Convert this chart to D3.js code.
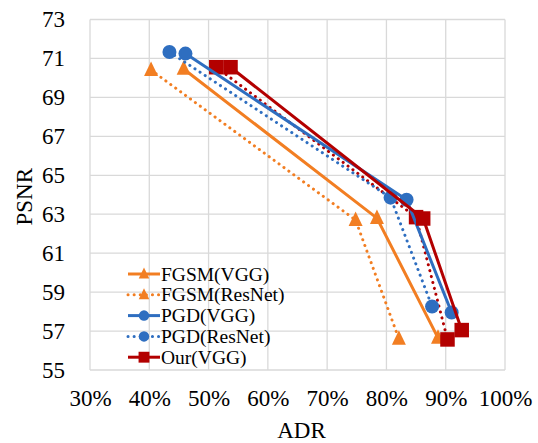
<!DOCTYPE html>
<html><head><meta charset="utf-8">
<script src="https://cdn.jsdelivr.net/npm/d3@7"></script>
<style>body{margin:0;background:#fff}svg{display:block}</style>
</head><body><div id="c"></div>
<script>
const xTicks = [0.3,0.4,0.5,0.6,0.7,0.8,0.9,1.0];
const yTicks = [55,57,59,61,63,65,67,69,71,73];
const fgsmVGG_x = [0.458,0.784,0.887], fgsmVGG_y = [70.46,62.8,56.65];
const fgsmRes_x = [0.403,0.748,0.821], fgsmRes_y = [70.4,62.7,56.6];
const pgdVGG_x = [0.461,0.834,0.910], pgdVGG_y = [71.25,63.74,57.95];
const pgdRes_x = [0.434,0.807,0.877], pgdRes_y = [71.33,63.85,58.26];
const ourVGG_x = [0.537,0.862,0.927], ourVGG_y = [70.55,62.78,57.05];
const ourRes_x = [0.513,0.850,0.903], ourRes_y = [70.55,62.85,56.57];

const series = [
 {name:"FGSM(VGG)", xs:fgsmVGG_x, ys:fgsmVGG_y, color:"#F27E22", dash:false, marker:"tri", legend:true},
 {name:"FGSM(ResNet)", xs:fgsmRes_x, ys:fgsmRes_y, color:"#F27E22", dash:true, marker:"tri", legend:true},
 {name:"Our(ResNet)", xs:ourRes_x, ys:ourRes_y, color:"#B30000", dash:true, marker:"sq", legend:false},
 {name:"PGD(VGG)", xs:pgdVGG_x, ys:pgdVGG_y, color:"#2E6EC0", dash:false, marker:"circ", legend:true},
 {name:"PGD(ResNet)", xs:pgdRes_x, ys:pgdRes_y, color:"#2E6EC0", dash:true, marker:"circ", legend:true},
 {name:"Our(VGG)", xs:ourVGG_x, ys:ourVGG_y, color:"#B30000", dash:false, marker:"sq", legend:true}
];
const legendOrder = ["FGSM(VGG)","FGSM(ResNet)","PGD(VGG)","PGD(ResNet)","Our(VGG)"];

const FONT = "'Liberation Serif', Tinos, 'Times New Roman', serif";
const W=538,H=443, L=90,R=505,T=19.5,B=370;
const svg=d3.select("#c").append("svg").attr("width",W).attr("height",H);
const x=d3.scaleLinear().domain([0.3,1.0]).range([L,R]);
const y=d3.scaleLinear().domain([55,73]).range([B,T]);

// grid
svg.append("g").selectAll("line").data(xTicks).join("line")
 .attr("x1",d=>x(d)).attr("x2",d=>x(d)).attr("y1",T).attr("y2",B)
 .attr("stroke","#d9d9d9").attr("stroke-width",1.3);
svg.append("g").selectAll("line").data(yTicks).join("line")
 .attr("x1",L).attr("x2",R).attr("y1",d=>y(d)).attr("y2",d=>y(d))
 .attr("stroke","#d9d9d9").attr("stroke-width",1.3);

// axes
const xa=svg.append("g").attr("transform",`translate(0,${B})`)
 .call(d3.axisBottom(x).tickValues(xTicks).tickFormat(d3.format(".0%")).tickSize(0).tickPadding(20));
xa.select(".domain").remove();
xa.attr("font-family",FONT).attr("font-size",23);
xa.selectAll("text").attr("fill","#000");
const ya=svg.append("g").attr("transform",`translate(${L},0)`)
 .call(d3.axisLeft(y).tickValues(yTicks).tickFormat(d3.format("d")).tickSize(0).tickPadding(25));
ya.select(".domain").remove();
ya.attr("font-family",FONT).attr("font-size",23);
ya.selectAll("text").attr("fill","#000");

svg.append("text").attr("x",(L+R)/2+4).attr("y",438).attr("text-anchor","middle")
 .attr("font-family",FONT).attr("font-size",23).text("ADR");
svg.append("text").attr("transform",`translate(32,${(T+B)/2+2}) rotate(-90)`).attr("text-anchor","middle")
 .attr("font-family",FONT).attr("font-size",23).text("PSNR");

function marker(g,type,color,cx,cy,scale){
 scale=scale||1;
 if(type==="tri"){
  const s=14*scale;
  g.append("path").attr("d",`M${cx},${cy-s*0.62}L${cx+s/2},${cy+s*0.42}L${cx-s/2},${cy+s*0.42}Z`).attr("fill",color);
 } else if(type==="circ"){
  g.append("circle").attr("cx",cx).attr("cy",cy).attr("r",7*scale).attr("fill",color);
 } else {
  const s=14.5*scale;
  g.append("rect").attr("x",cx-s/2).attr("y",cy-s/2).attr("width",s).attr("height",s).attr("fill",color);
 }
}

const line=d3.line().x(d=>x(d[0])).y(d=>y(d[1]));
series.forEach(s=>{
 const pts=s.xs.map((v,i)=>[v,s.ys[i]]);
 const g=svg.append("g");
 g.append("path").attr("d",line(pts)).attr("fill","none").attr("stroke",s.color)
  .attr("stroke-width",3).attr("stroke-linecap",s.dash?"round":"butt")
  .attr("stroke-dasharray",s.dash?"0.1 6":null);
 pts.forEach(p=>marker(g,s.marker,s.color,x(p[0]),y(p[1])));
});

// legend
const lg=svg.append("g");
legendOrder.forEach((n,i)=>{
 const s=series.find(d=>d.name===n);
 const yy=274+i*20.8;
 lg.append("line").attr("x1",128).attr("x2",160).attr("y1",yy).attr("y2",yy)
  .attr("stroke",s.color).attr("stroke-width",3).attr("stroke-linecap",s.dash?"round":"butt")
  .attr("stroke-dasharray",s.dash?"0.1 6":null);
 marker(lg,s.marker,s.color,144,yy,0.75);
 lg.append("text").attr("x",161).attr("y",yy+6.5).attr("font-family",FONT).attr("font-size",19.5).attr("fill","#000").text(n);
});
</script></body></html>
